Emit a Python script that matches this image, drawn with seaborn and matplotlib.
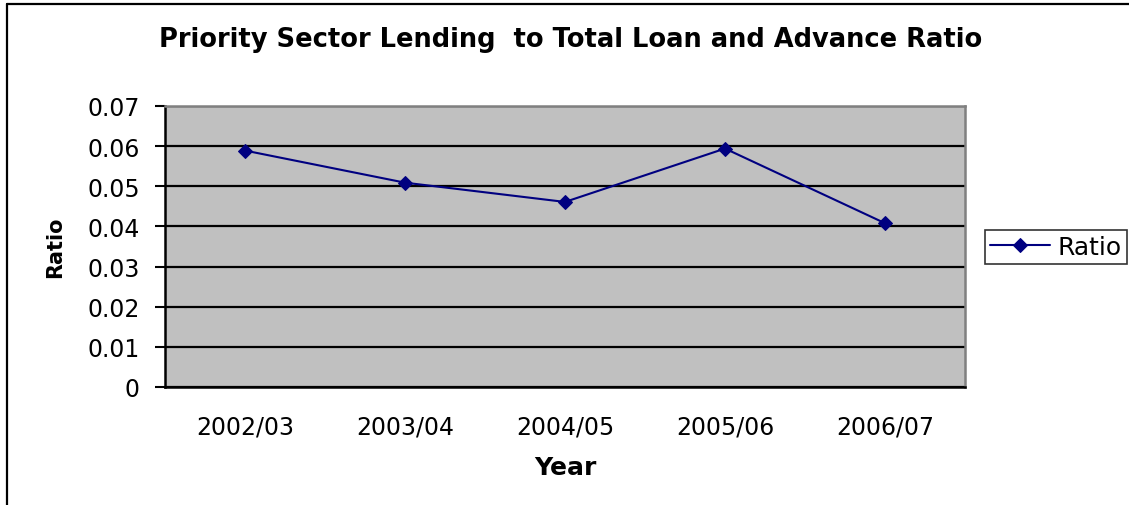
import matplotlib
matplotlib.use("Agg")
import matplotlib.pyplot as plt
from matplotlib.lines import Line2D
from matplotlib.ticker import FixedLocator
import seaborn as sns
import pandas as pd

years = ["2002/03", "2003/04", "2004/05", "2005/06", "2006/07"]
ratio = [0.0589, 0.0509, 0.0461, 0.0594, 0.0408]
y_ticks = [0, 0.01, 0.02, 0.03, 0.04, 0.05, 0.06, 0.07]
y_tick_labels = ["0", "0.01", "0.02", "0.03", "0.04", "0.05", "0.06", "0.07"]

sns.set_style("white")
plt.rcParams["font.family"] = ["DejaVu Sans"]
plt.rcParams["text.color"] = "black"
plt.rcParams["axes.labelcolor"] = "black"
plt.rcParams["xtick.color"] = "black"
plt.rcParams["ytick.color"] = "black"

df = pd.DataFrame({"pos": range(len(years)), "Ratio": ratio})

W, H = 1129, 506
fig = plt.figure(figsize=(W / 100, H / 100), dpi=100)
ax = fig.add_axes([165 / W, 1 - 388 / H, 800 / W, 281 / H])
ax.set_facecolor("#C0C0C0")

sns.lineplot(data=df, x="pos", y="Ratio", ax=ax, color="#000080",
             marker="D", markersize=7, markeredgecolor="#000080",
             linewidth=1.5, label="Ratio")

ax.set_xlim(-0.5, len(years) - 0.5)
ax.set_ylim(0, 0.07)
ax.set_yticks(y_ticks)
ax.set_yticklabels(y_tick_labels)
ax.grid(axis="y", color="black", linewidth=1.6)
ax.set_axisbelow(True)

# category labels at centres, tick marks on the boundaries
ax.set_xticks(range(len(years)))
ax.set_xticklabels(years)
ax.xaxis.set_minor_locator(FixedLocator([i - 0.5 for i in range(len(years) + 1)]))
ax.tick_params(axis="x", which="major", length=0, pad=20, labelsize=17)
ax.tick_params(axis="x", which="minor", length=7, width=1.5, color="black", direction="out")
ax.tick_params(axis="y", length=7, width=1.5, color="black", direction="out",
               labelsize=17, pad=11, left=True)

for side in ("left", "bottom"):
    ax.spines[side].set_color("black")
    ax.spines[side].set_linewidth(1.8)
for side in ("top", "right"):
    ax.spines[side].set_color("#808080")
    ax.spines[side].set_linewidth(1.8)
    ax.spines[side].set_visible(True)

ax.set_xlabel("Year", fontsize=18, fontweight="bold", labelpad=12)
ax.set_ylabel("Ratio", fontsize=15, fontweight="bold", labelpad=16)

fig.text(571 / W, 1 - 40 / H, "Priority Sector Lending  to Total Loan and Advance Ratio",
         ha="center", va="center", fontsize=18.5, fontweight="bold")

leg = ax.legend(loc="center left", bbox_to_anchor=(985 / W, 1 - 248 / H),
                bbox_transform=fig.transFigure, fontsize=18, frameon=True,
                fancybox=False, edgecolor="black", handlelength=2.4,
                borderpad=0.2, handletextpad=0.3, borderaxespad=0)
leg.get_frame().set_linewidth(1.2)

# chart frame, cropped on the right and bottom
fig.add_artist(Line2D([7 / W, 7 / W], [1 - 5 / H, 0], transform=fig.transFigure,
                      color="black", linewidth=1.6))
fig.add_artist(Line2D([7 / W, 1], [1 - 5 / H, 1 - 5 / H], transform=fig.transFigure,
                      color="black", linewidth=1.6))

fig.savefig("out.png", dpi=100, facecolor="white")
